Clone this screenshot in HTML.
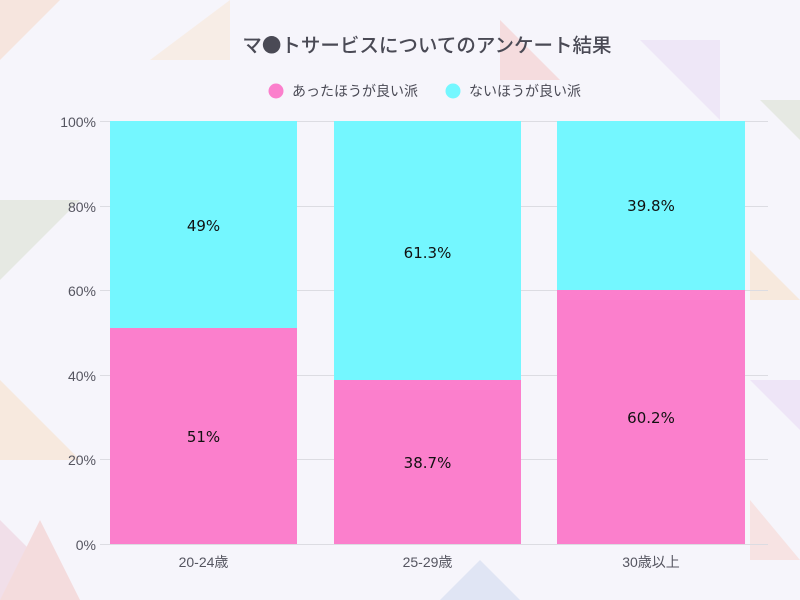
<!DOCTYPE html>
<html><head><meta charset="utf-8"><style>
body{margin:0;width:800px;height:600px;background:#f6f5fb;overflow:hidden;font-family:"Liberation Sans","Noto Sans CJK JP",sans-serif;}
</style></head><body>
<svg width="800" height="600" xmlns="http://www.w3.org/2000/svg" style="position:absolute;left:0;top:0">
<rect width="800" height="600" fill="#f6f5fb"/>
<g opacity="0.35">
<polygon points="0,0 60,0 0,60" fill="#f6c9a8"/>
<polygon points="0,200 80,200 0,280" fill="#c9d4b8"/>
<polygon points="0,380 80,460 0,460" fill="#f9d4a8"/>
<polygon points="0,520 80,600 0,600" fill="#e8b8c8"/>
<polygon points="40,520 80,600 0,600" fill="#f3b0a8"/>
<polygon points="760,100 800,100 800,140" fill="#c9d4b8"/>
<polygon points="750,250 800,300 750,300" fill="#f9d4a8"/>
<polygon points="750,380 800,380 800,430" fill="#e0c8f0"/>
<polygon points="750,500 800,560 750,560" fill="#f9c4b8"/>
<polygon points="500,20 560,80 500,80" fill="#f3b0a8"/>
<polygon points="640,40 720,40 720,120" fill="#e0d0f0"/>
<polygon points="150,60 230,0 230,60" fill="#f9e0c0"/>
<polygon points="480,560 520,600 440,600" fill="#b8c8e8"/>
</g>
<g stroke="#dcdce2" stroke-width="1">
<line x1="100" x2="768" y1="121.5" y2="121.5"/>
<line x1="100" x2="768" y1="206.5" y2="206.5"/>
<line x1="100" x2="768" y1="290.5" y2="290.5"/>
<line x1="100" x2="768" y1="375.5" y2="375.5"/>
<line x1="100" x2="768" y1="459.5" y2="459.5"/>
<line x1="100" x2="768" y1="544.5" y2="544.5"/>
</g>
<rect x="110" y="121" width="187" height="207" fill="#74f7ff"/>
<rect x="110" y="328" width="187" height="216" fill="#fb7fcc"/>
<rect x="334" y="121" width="187" height="259" fill="#74f7ff"/>
<rect x="334" y="380" width="187" height="164" fill="#fb7fcc"/>
<rect x="557" y="121" width="188" height="169" fill="#74f7ff"/>
<rect x="557" y="290" width="188" height="254" fill="#fb7fcc"/>
<g font-size="15" fill="#111" text-anchor="middle" font-family="DejaVu Sans, sans-serif">
<text x="203.5" y="231">49%</text>
<text x="203.5" y="442">51%</text>
<text x="427.5" y="258">61.3%</text>
<text x="427.5" y="468">38.7%</text>
<text x="651" y="211">39.8%</text>
<text x="651" y="423">60.2%</text>
</g>
<g font-size="14" fill="#555560" text-anchor="end">
<text x="96" y="127">100%</text>
<text x="96" y="212">80%</text>
<text x="96" y="296">60%</text>
<text x="96" y="381">40%</text>
<text x="96" y="465">20%</text>
<text x="96" y="550">0%</text>
</g>
<g font-size="14" fill="#555560" text-anchor="middle" font-family="Liberation Sans, Noto Sans CJK JP, sans-serif">
<text x="203.5" y="567">20-24歳</text>
<text x="427.5" y="567">25-29歳</text>
<text x="651" y="567">30歳以上</text>
</g>
<text x="427" y="52" font-size="19.5" font-weight="500" fill="#4a4a55" text-anchor="middle" font-family="Noto Sans CJK JP, sans-serif">マ●トサービスについてのアンケート結果</text>
<circle cx="276" cy="91" r="7.5" fill="#fb7fcc"/>
<text x="292" y="96" font-size="14" fill="#4a4a55" font-family="Noto Sans CJK JP, sans-serif">あったほうが良い派</text>
<circle cx="453" cy="91" r="7.5" fill="#74f7ff"/>
<text x="469" y="96" font-size="14" fill="#4a4a55" font-family="Noto Sans CJK JP, sans-serif">ないほうが良い派</text>
</svg>
</body></html>
